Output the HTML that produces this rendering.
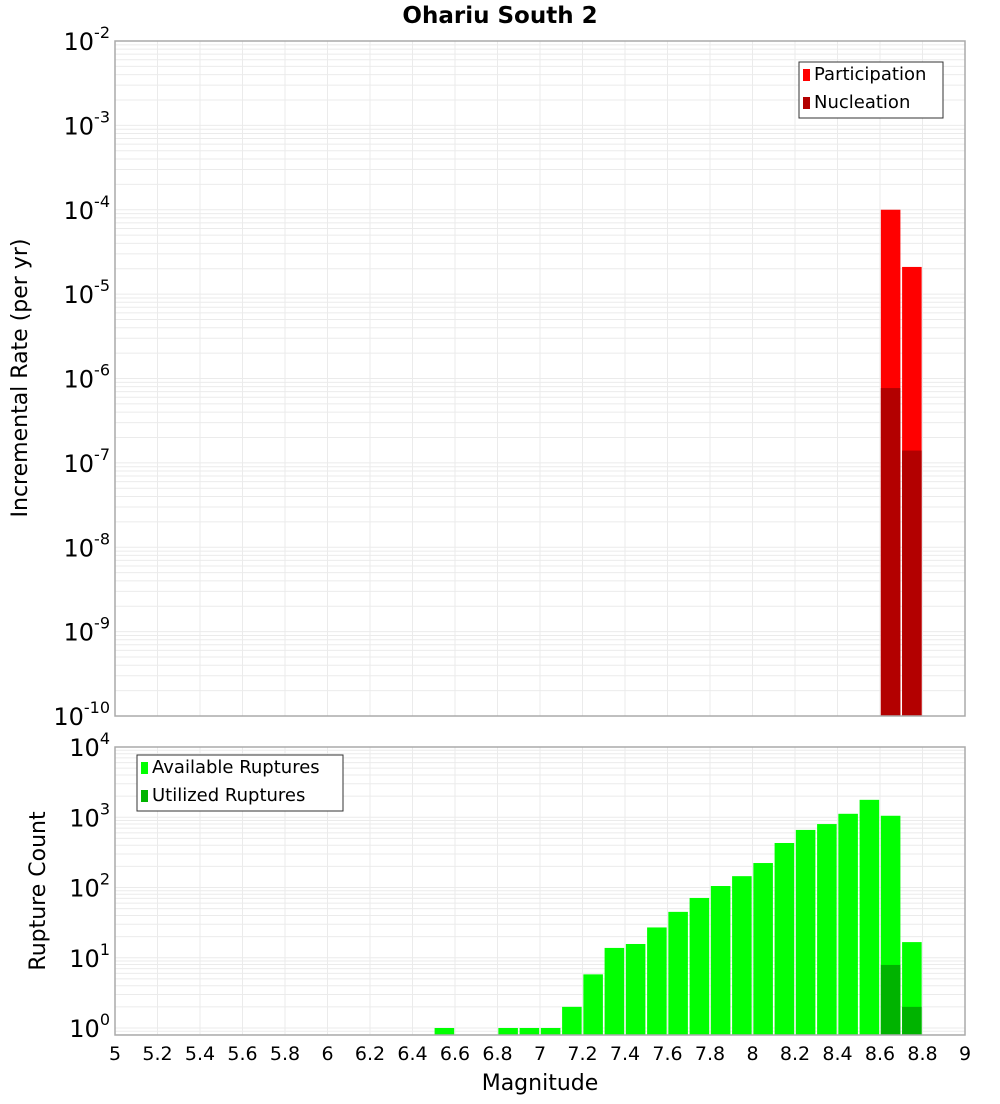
<!DOCTYPE html>
<html><head><meta charset="utf-8"><style>
body{margin:0;background:#fff;font-family:"DejaVu Sans","Liberation Sans",sans-serif}
</style></head><body>
<svg id="c" width="1000" height="1100" xmlns="http://www.w3.org/2000/svg" font-family="DejaVu Sans, Liberation Sans, sans-serif">
<text x="500" y="23" text-anchor="middle" font-weight="bold" font-size="23">Ohariu South 2</text>
<g id="topg"></g><g id="botg"></g>
<text transform="translate(27,378) rotate(-90)" text-anchor="middle" font-size="22">Incremental Rate (per yr)</text>
<text transform="translate(45,891) rotate(-90)" text-anchor="middle" font-size="22">Rupture Count</text>
<text x="540" y="1090" text-anchor="middle" font-size="22">Magnitude</text>
</svg>
<script>
const ns="http://www.w3.org/2000/svg";
const xTicks=[5,5.2,5.4,5.6,5.8,6,6.2,6.4,6.6,6.8,7,7.2,7.4,7.6,7.8,8,8.2,8.4,8.6,8.8,9];
const topMags=[8.65,8.75];
const participation=[1e-4,2.1e-5];
const nucleation=[7.7e-7,1.4e-7];
const botMags=[6.55,6.85,6.95,7.05,7.15,7.25,7.35,7.45,7.55,7.65,7.75,7.85,7.95,8.05,8.15,8.25,8.35,8.45,8.55,8.65,8.75];
const available=[1,1,1,1,2,5.8,13.8,15.7,27,45,71,105,145,223,430,660,800,1120,1770,1050,16.7];
const utilMags=[8.65,8.75];
const utilized=[7.9,2];
const topExp=[-2,-3,-4,-5,-6,-7,-8,-9,-10];
const botExp=[4,3,2,1,0];
const X0=115,X1=965;
const xs=m=>X0+(m-5)/4*(X1-X0);
const yTop=v=>41+(-2-Math.log10(v))*84.375;
const yBot=v=>1028-Math.log10(v)*70.25;
function mk(p,tag,at,name,inter){const e=document.createElementNS(ns,tag);for(const k in at)e.setAttribute(k,at[k]);


p.appendChild(e);return e;}
function panel(g,y0,y1,ys,minExp,maxExp,exps,prefix){
  mk(g,'rect',{x:X0,y:y0,width:X1-X0,height:y1-y0,fill:'#fff'},prefix+'-plot-area');
  for(let e=minExp;e<=maxExp;e++)for(let k=1;k<10;k++){const v=k*Math.pow(10,e);const y=ys(v);if(y<y0-0.5||y>y1+0.5)continue;
    mk(g,'line',{x1:X0,x2:X1,y1:y,y2:y,stroke:'#ebebeb','stroke-width':1},prefix+'-h-grid');}
  xTicks.forEach(t=>{const x=xs(t);mk(g,'line',{x1:x,x2:x,y1:y0,y2:y1,stroke:'#ebebeb','stroke-width':1},prefix+'-v-grid');});
  exps.forEach(e=>{const y=ys(Math.pow(10,e));const t=mk(g,'text',{x:110,y:y+9,'text-anchor':'end','font-size':24},prefix+'-y-tick-label');
    t.textContent='10';const s=document.createElementNS(ns,'tspan');s.setAttribute('dy','-12');s.setAttribute('font-size','16');s.textContent=String(e);t.appendChild(s);});
}
const gTop=document.getElementById('topg'),gBot=document.getElementById('botg');
panel(gTop,41,716,yTop,-11,-2,topExp,'top');
panel(gBot,747,1035,yBot,-1,4,botExp,'bottom');
const bw=0.092*(X1-X0)/4;
topMags.forEach((m,i)=>{const x=xs(m)-bw/2;
  mk(gTop,'rect',{x:x,y:yTop(participation[i]),width:bw,height:716-yTop(participation[i]),fill:'#ff0000'},'participation-bar');
  mk(gTop,'rect',{x:x,y:yTop(nucleation[i]),width:bw,height:716-yTop(nucleation[i]),fill:'#b30000'},'nucleation-bar');});
botMags.forEach((m,i)=>{const x=xs(m)-bw/2;
  mk(gBot,'rect',{x:x,y:yBot(available[i]),width:bw,height:1035-yBot(available[i]),fill:'#00ff00'},'available-bar');});
utilMags.forEach((m,i)=>{const x=xs(m)-bw/2;
  mk(gBot,'rect',{x:x,y:yBot(utilized[i]),width:bw,height:1035-yBot(utilized[i]),fill:'#00b300'},'utilized-bar');});
mk(gTop,'rect',{x:X0,y:41,width:X1-X0,height:675,fill:'none',stroke:'#aaa','stroke-width':1.5},'top-plot-border');
mk(gBot,'rect',{x:X0,y:747,width:X1-X0,height:288,fill:'none',stroke:'#aaa','stroke-width':1.5},'bottom-plot-border');
xTicks.forEach(t=>{const lb=mk(gBot,'text',{x:xs(t),y:1060,'text-anchor':'middle','font-size':19},'x-tick-label');lb.textContent=String(t);});
function legend(g,x,y,w,items,name){mk(g,'rect',{x:x,y:y,width:w,height:56,fill:'#fff',stroke:'#333','stroke-width':1},name);
  items.forEach((it,i)=>{mk(g,'rect',{x:x+4,y:y+7+i*28,width:7,height:12,fill:it[1]},'legend-swatch');
    const t=mk(g,'text',{x:x+15,y:y+18+i*28,'font-size':18},'legend-entry');t.textContent=it[0];});}
legend(gTop,799,62,144,[['Participation','#ff0000'],['Nucleation','#b30000']],'top-legend');
legend(gBot,137,755,206,[['Available Ruptures','#00ff00'],['Utilized Ruptures','#00b300']],'bottom-legend');
</script>
</body></html>
